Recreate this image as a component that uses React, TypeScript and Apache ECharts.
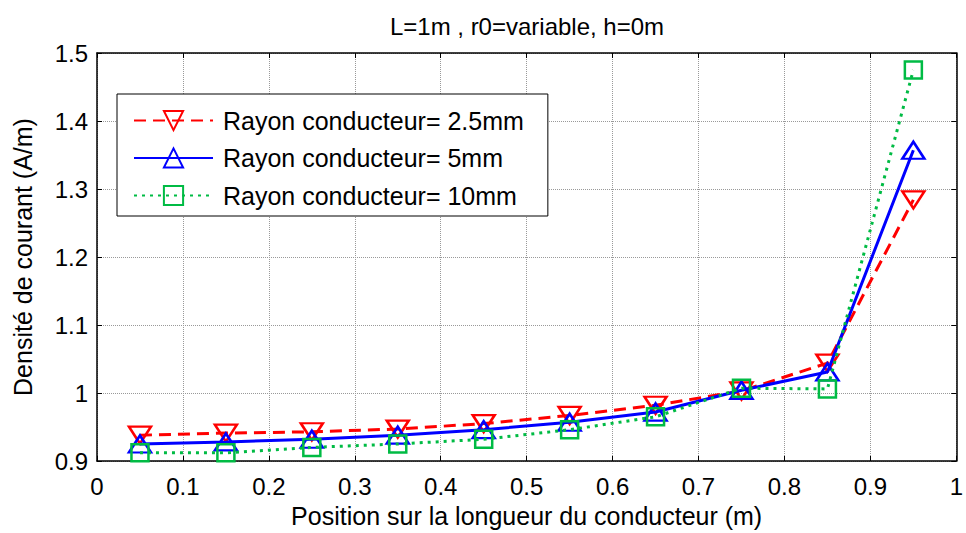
import React, { useEffect, useRef } from "react";
import * as echarts from "echarts";

const positions = [0.05, 0.15, 0.25, 0.35, 0.45, 0.55, 0.65, 0.75, 0.85, 0.95];
const r25 = [0.938, 0.941, 0.943, 0.947, 0.955, 0.967, 0.982, 1.003, 1.044, 1.284];
const r5 = [0.925, 0.928, 0.932, 0.938, 0.946, 0.957, 0.972, 1.004, 1.031, 1.357];
const r10 = [0.912, 0.912, 0.920, 0.925, 0.932, 0.946, 0.965, 1.007, 1.006, 1.475];
const seriesNames = ["Rayon conducteur= 2.5mm", "Rayon conducteur= 5mm", "Rayon conducteur= 10mm"];
const titleText = "L=1m , r0=variable, h=0m";
const xName = "Position sur la longueur du conducteur (m)";
const yName = "Densité de courant (A/m)";

const FONT = "Liberation Sans, Arial, sans-serif";
const RED = "#ff0000";
const BLUE = "#0000ff";
const GREEN = "#00bb44";

export default function App() {
  const ref = useRef<HTMLDivElement>(null);
  useEffect(() => {
    if (!ref.current) return;
    const chart = echarts.init(ref.current, undefined, { renderer: "svg" });
    const pair = (vals: number[]) => positions.map((p, i) => [p, vals[i]]);
    const tickStyle = { show: true, inside: true, length: 5, lineStyle: { color: "#000", width: 1 } };
    const axisLine = { show: true, onZero: false, lineStyle: { color: "#000", width: 1.5 } };
    const grid = { show: true, lineStyle: { color: "#999", width: 1, type: "dotted" as const } };
    chart.setOption({
      animation: false,
      backgroundColor: "#fff",
      textStyle: { fontFamily: FONT },
      graphic: [
        {
          type: "text",
          x: 527,
          y: 26,
          style: {
            text: titleText,
            fontFamily: FONT,
            fontSize: 24,
            fill: "#000",
            textAlign: "center",
            textVerticalAlign: "middle",
          },
        },
      ],
      grid: { left: 97, right: 4, top: 53, bottom: 72, containLabel: false },
      legend: {
        orient: "vertical",
        left: 117,
        top: 94,
        padding: [14, 24, 8, 16],
        itemWidth: 79,
        itemHeight: 24,
        itemGap: 12.5,
        backgroundColor: "#fff",
        borderColor: "#000",
        borderWidth: 1,
        borderRadius: 0,
        textStyle: { fontFamily: FONT, fontSize: 25, color: "#000", padding: [0, 0, 0, 5] },
        data: seriesNames,
      },
      xAxis: [
        {
          type: "value",
          min: 0,
          max: 1,
          interval: 0.1,
          name: xName,
          nameLocation: "middle",
          nameGap: 42,
          nameTextStyle: { fontFamily: FONT, fontSize: 25, color: "#000" },
          axisLine,
          axisTick: tickStyle,
          splitLine: grid,
          axisLabel: { fontFamily: FONT, fontSize: 24, color: "#000", margin: 13 },
        },
        {
          type: "value",
          position: "top",
          min: 0,
          max: 1,
          interval: 0.1,
          axisLine,
          axisTick: tickStyle,
          splitLine: { show: false },
          axisLabel: { show: false },
        },
      ],
      yAxis: [
        {
          type: "value",
          min: 0.9,
          max: 1.5,
          interval: 0.1,
          name: yName,
          nameLocation: "middle",
          nameGap: 62,
          nameTextStyle: { fontFamily: FONT, fontSize: 25, color: "#000" },
          axisLine,
          axisTick: tickStyle,
          splitLine: grid,
          axisLabel: { fontFamily: FONT, fontSize: 24, color: "#000", margin: 9 },
        },
        {
          type: "value",
          position: "right",
          min: 0.9,
          max: 1.5,
          interval: 0.1,
          axisLine,
          axisTick: tickStyle,
          splitLine: { show: false },
          axisLabel: { show: false },
        },
      ],
      series: [
        {
          name: seriesNames[0],
          type: "line",
          data: pair(r25),
          symbol: "triangle",
          symbolRotate: 180,
          symbolSize: [22, 17],
          showAllSymbol: true,
          lineStyle: { color: RED, width: 3, type: [12, 7] },
          itemStyle: { color: "rgba(0,0,0,0)", borderColor: RED, borderWidth: 2.5 },
          z: 3,
        },
        {
          name: seriesNames[1],
          type: "line",
          data: pair(r5),
          symbol: "triangle",
          symbolSize: [22, 17],
          showAllSymbol: true,
          lineStyle: { color: BLUE, width: 3, type: "solid" },
          itemStyle: { color: "rgba(0,0,0,0)", borderColor: BLUE, borderWidth: 2.5 },
          z: 4,
        },
        {
          name: seriesNames[2],
          type: "line",
          data: pair(r10),
          symbol: "rect",
          symbolSize: 17,
          showAllSymbol: true,
          lineStyle: { color: GREEN, width: 3, type: [3, 5] },
          itemStyle: { color: "rgba(0,0,0,0)", borderColor: GREEN, borderWidth: 2.5 },
          z: 5,
        },
      ],
    });
    return () => chart.dispose();
  }, []);
  return <div ref={ref} style={{ width: 966, height: 533, position: "fixed", left: 0, top: 0 }} />;
}
